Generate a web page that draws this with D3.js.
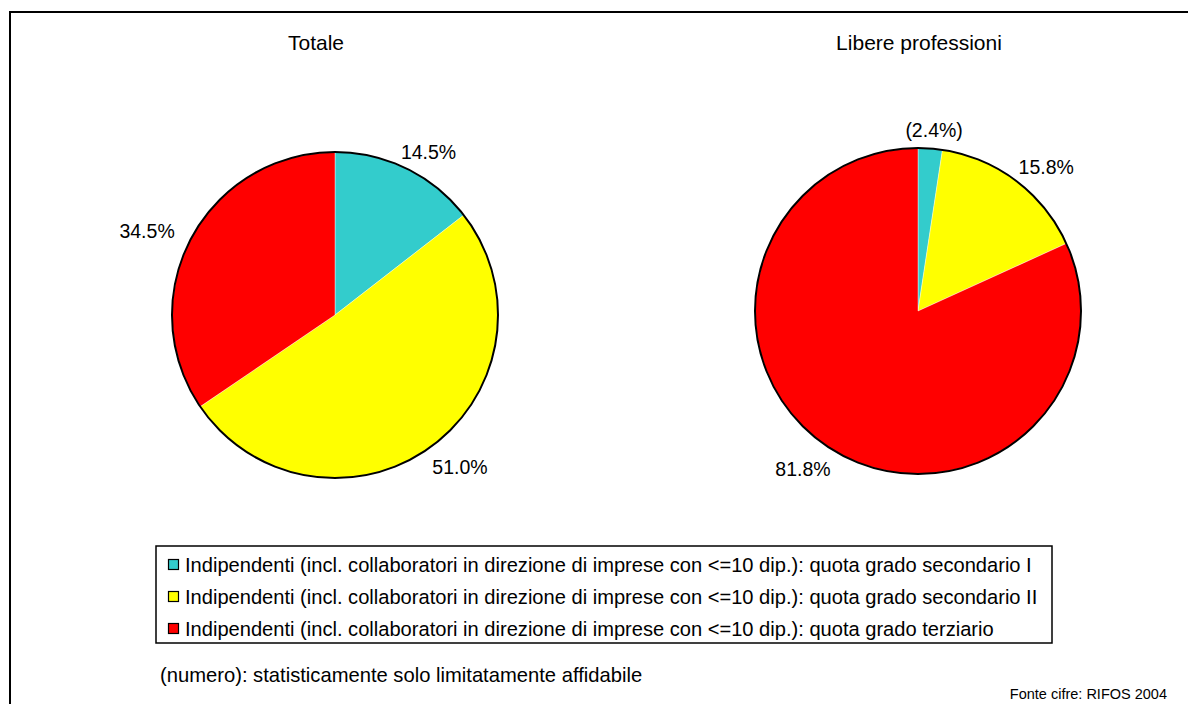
<!DOCTYPE html>
<html>
<head>
<meta charset="utf-8">
<script src="https://cdn.jsdelivr.net/npm/d3@7"></script>
<style>
  html, body { margin: 0; padding: 0; background: #fff; }
  svg { display: block; font-family: "Liberation Sans", Arial, sans-serif; }
</style>
</head>
<body>
<svg id="chart" width="1188" height="704"></svg>
<script>
// Categories and shares (%) per panel
const categories = [
  "Indipendenti (incl. collaboratori in direzione di imprese con <=10 dip.): quota grado secondario I",
  "Indipendenti (incl. collaboratori in direzione di imprese con <=10 dip.): quota grado secondario II",
  "Indipendenti (incl. collaboratori in direzione di imprese con <=10 dip.): quota grado terziario"
];
const panelTitles = ["Totale", "Libere professioni"];
const totaleValues = [14.5, 51.0, 34.5];
const libereValues = [2.4, 15.8, 81.8];
// Values flagged as statistically only limitedly reliable are shown in brackets
const libereLimited = [true, false, false];
const totaleLimited = [false, false, false];
const colors = ["#33CCCC", "#FFFF00", "#FF0000"];
const noteText = "(numero): statisticamente solo limitatamente affidabile";
const sourceText = "Fonte cifre: RIFOS 2004";

const svg = d3.select("#chart");

// Outer frame
svg.append("rect")
  .attr("x", 10).attr("y", 12)
  .attr("width", 1200).attr("height", 720)
  .attr("fill", "none").attr("stroke", "#000").attr("stroke-width", 2);

const panels = [
  { title: panelTitles[0], values: totaleValues, limited: totaleLimited, cx: 335, cy: 315, titleX: 316 },
  { title: panelTitles[1], values: libereValues, limited: libereLimited, cx: 918, cy: 311, titleX: 919 }
];
const radius = 163;
const labelGap = 14;
const labelSideGap = 8;

const pie = d3.pie().sort(null).value(d => d);
const arc = d3.arc().innerRadius(0).outerRadius(radius);

panels.forEach(p => {
  svg.append("text")
    .attr("x", p.titleX).attr("y", 50)
    .attr("text-anchor", "middle")
    .attr("font-size", 21)
    .text(p.title);

  const g = svg.append("g").attr("transform", `translate(${p.cx},${p.cy})`);
  const arcs = pie(p.values);

  g.selectAll("path.slice")
    .data(arcs)
    .join("path")
    .attr("class", "slice")
    .attr("d", arc)
    .attr("fill", (d, i) => colors[i])
    .attr("stroke", "#fff")
    .attr("stroke-width", 0.4);

  g.append("circle")
    .attr("r", radius)
    .attr("fill", "none")
    .attr("stroke", "#000")
    .attr("stroke-width", 2);

  // Outside-end labels: the label box sits just beyond the rim along the slice's mid angle
  g.selectAll("text.lbl")
    .data(arcs)
    .join("text")
    .attr("class", "lbl")
    .attr("text-anchor", "middle")
    .attr("dy", "0.35em")
    .attr("font-size", 19.5)
    .text((d, i) => {
      const s = d.data.toFixed(1) + "%";
      return p.limited[i] ? `(${s})` : s;
    })
    .attr("transform", function (d) {
      const a = (d.startAngle + d.endAngle) / 2;
      const w = this.getComputedTextLength();
      const h = 15;
      const r = radius + labelGap;
      const x = Math.sin(a) * (r + labelSideGap) + Math.sin(a) * w / 2;
      const y = -Math.cos(a) * r - Math.cos(a) * h / 2 + 3;
      return `translate(${x},${y})`;
    });
});

// Legend
const legend = svg.append("g");
legend.append("rect")
  .attr("x", 156).attr("y", 546)
  .attr("width", 896).attr("height", 97)
  .attr("fill", "#fff").attr("stroke", "#000").attr("stroke-width", 1.5);

const rowY = d3.scalePoint().domain(d3.range(categories.length)).range([565, 629]);
categories.forEach((c, i) => {
  const y = rowY(i);
  legend.append("rect")
    .attr("x", 168.5).attr("y", y - 5.5)
    .attr("width", 10).attr("height", 10)
    .attr("fill", colors[i]).attr("stroke", "#000").attr("stroke-width", 1.2);
  legend.append("text")
    .attr("x", 185).attr("y", y)
    .attr("dy", "0.35em")
    .attr("font-size", 20.1)
    .text(c);
});

svg.append("text")
  .attr("x", 160).attr("y", 675)
  .attr("dy", "0.35em")
  .attr("font-size", 20.2)
  .text(noteText);

svg.append("text")
  .attr("x", 1167).attr("y", 694)
  .attr("dy", "0.35em")
  .attr("text-anchor", "end")
  .attr("font-size", 14.5)
  .text(sourceText);
</script>
</body>
</html>
